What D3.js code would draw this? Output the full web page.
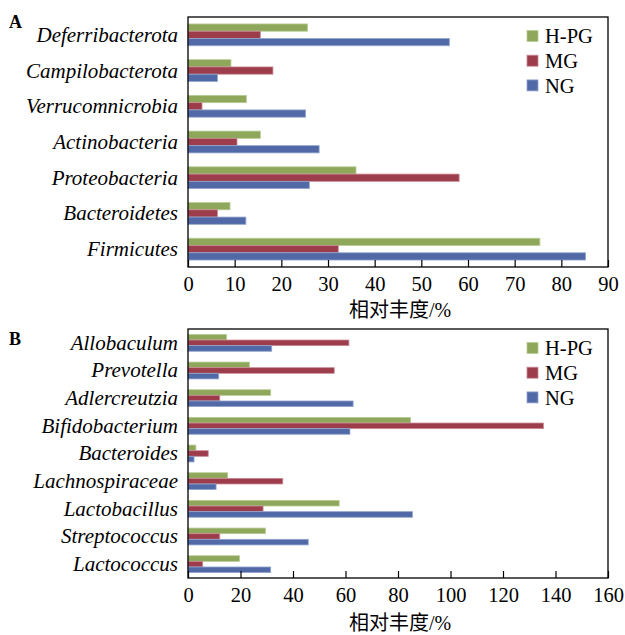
<!DOCTYPE html>
<html>
<head>
<meta charset="utf-8">
<script src="https://cdn.jsdelivr.net/npm/d3@7/dist/d3.min.js"></script>
<style>
  html, body { margin: 0; padding: 0; background: #fff; }
  svg { display: block; }
  .latin { font-family: "Liberation Serif", "Times New Roman", Times, serif; }
  .cjk { font-family: "Noto Sans CJK SC", sans-serif; }
</style>
</head>
<body>
<svg id="chart" width="625" height="635"></svg>
<script>
// Series shared by both panels
const seriesNames = ["H-PG", "MG", "NG"];
const seriesColors = ["#8ea75b", "#9d3c4b", "#516aa7"];
const seriesStrokes = ["#b9cc95", "#c98a95", "#93a6cf"];

// Panel A: phylum level
const phylaA = ["Deferribacterota", "Campilobacterota", "Verrucomnicrobia", "Actinobacteria", "Proteobacteria", "Bacteroidetes", "Firmicutes"];
const hpgA = [25.6, 9.2, 12.5, 15.5, 36.0, 9.0, 75.4];
const mgA  = [15.5, 18.2, 3.0, 10.5, 58.1, 6.3, 32.2];
const ngA  = [56.0, 6.3, 25.2, 28.1, 26.0, 12.4, 85.2];
const ticksA = [0, 10, 20, 30, 40, 50, 60, 70, 80, 90];

// Panel B: genus level
const generaB = ["Allobaculum", "Prevotella", "Adlercreutzia", "Bifidobacterium", "Bacteroides", "Lachnospiraceae", "Lactobacillus", "Streptococcus", "Lactococcus"];
const hpgB = [14.7, 23.4, 31.5, 84.8, 3.0, 15.1, 57.6, 29.5, 19.6];
const mgB  = [61.3, 55.7, 12.1, 135.4, 7.7, 36.1, 28.6, 12.1, 5.6];
const ngB  = [31.9, 11.7, 62.9, 61.7, 2.3, 10.7, 85.5, 45.8, 31.5];
const ticksB = [0, 20, 40, 60, 80, 100, 120, 140, 160];

const axisTitleCjk = "相对丰度";
const axisTitleUnit = "/%";

const svg = d3.select("#chart");

function drawPanel(opts) {
  const { letter, categories, values, ticks, top, bottom, left, right, letterY, titleY } = opts;
  const g = svg.append("g");

  const x = d3.scaleLinear().domain([ticks[0], ticks[ticks.length - 1]]).range([left, right]);
  const y = d3.scaleBand().domain(categories).range([top, bottom])
    .paddingInner(0.39).paddingOuter(0.195);
  const ySub = d3.scaleBand().domain(seriesNames).range([0, y.bandwidth()]);

  // bars
  seriesNames.forEach((s, si) => {
    g.append("g").selectAll("rect")
      .data(categories.map((c, i) => ({ c, v: values[si][i] })))
      .join("rect")
      .attr("x", x(0))
      .attr("y", d => y(d.c) + ySub(s))
      .attr("width", d => x(d.v) - x(0))
      .attr("height", ySub.bandwidth())
      .attr("fill", seriesColors[si])
      .attr("stroke", seriesStrokes[si])
      .attr("stroke-width", 0.8);
  });

  // x axis with inward ticks
  const axis = d3.axisBottom(x).tickValues(ticks).tickSize(-7).tickPadding(9).tickFormat(d3.format("d"));
  const ax = g.append("g").attr("transform", `translate(0,${bottom})`).call(axis)
    .attr("font-family", null).attr("font-size", null);
  ax.select(".domain").remove();
  ax.selectAll(".tick line").attr("stroke", "#000").attr("stroke-width", 1.2);
  ax.selectAll(".tick text")
    .attr("class", "latin").attr("font-size", 20.5).attr("fill", "#000");

  // frame
  g.append("rect")
    .attr("x", left).attr("y", top)
    .attr("width", right - left).attr("height", bottom - top)
    .attr("fill", "none").attr("stroke", "#000").attr("stroke-width", 1.3);

  // category labels
  g.append("g").selectAll("text")
    .data(categories)
    .join("text")
    .attr("class", "latin")
    .attr("x", left - 10)
    .attr("y", d => y(d) + y.bandwidth() / 2)
    .attr("dy", "0.33em")
    .attr("text-anchor", "end")
    .attr("font-style", "italic")
    .attr("font-size", 21)
    .attr("fill", "#000")
    .text(d => d);

  // axis title: CJK words followed by the unit
  const title = g.append("text")
    .attr("x", (left + right) / 2 + 2)
    .attr("y", titleY)
    .attr("text-anchor", "middle")
    .attr("font-size", 20)
    .attr("fill", "#000");
  title.append("tspan").attr("class", "cjk").text(axisTitleCjk);
  title.append("tspan").attr("class", "latin").text(axisTitleUnit);

  // panel letter
  g.append("text")
    .attr("class", "latin")
    .attr("x", 9)
    .attr("y", letterY)
    .attr("font-size", 18)
    .attr("font-weight", "bold")
    .attr("fill", "#000")
    .text(letter);

  // legend
  const leg = g.append("g").attr("transform", `translate(${right - 81},${top + 19})`);
  seriesNames.forEach((s, i) => {
    const row = leg.append("g").attr("transform", `translate(0,${i * 24.7})`);
    row.append("rect")
      .attr("x", 0).attr("y", -5.5).attr("width", 11).attr("height", 11)
      .attr("fill", seriesColors[i]).attr("stroke", seriesStrokes[i]).attr("stroke-width", 0.8);
    row.append("text")
      .attr("class", "latin")
      .attr("x", 18).attr("y", 0).attr("dy", "0.35em")
      .attr("font-size", 20.5).attr("fill", "#000")
      .text(s);
  });
}

drawPanel({
  letter: "A", categories: phylaA, values: [hpgA, mgA, ngA], ticks: ticksA,
  top: 17, bottom: 267, left: 188, right: 608, letterY: 28, titleY: 316.5
});

drawPanel({
  letter: "B", categories: generaB, values: [hpgB, mgB, ngB], ticks: ticksB,
  top: 329, bottom: 578, left: 188, right: 608, letterY: 345, titleY: 630
});
</script>
</body>
</html>
